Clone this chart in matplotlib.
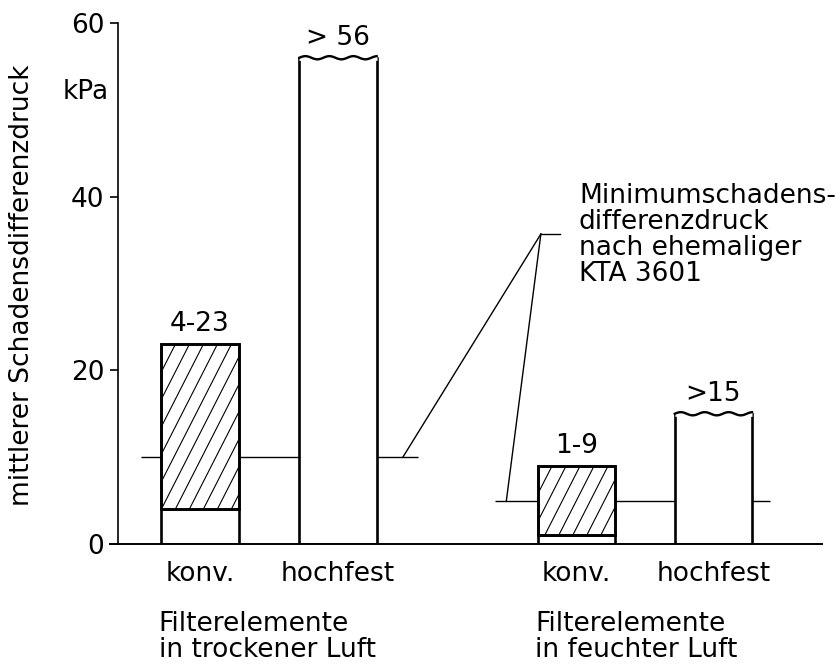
import numpy as np
import matplotlib
matplotlib.use("Agg")
import matplotlib.pyplot as plt

plt.rcParams['font.family'] = ['DejaVu Sans']

# --- data -------------------------------------------------------------
bar_names = ["konv.", "hochfest", "konv.", "hochfest"]
bar_pos = [0.0, 1.0, 2.73, 3.72]
bar_low = [4, None, 1, None]          # lower end of range (konv.)
bar_high = [23, 56, 9, 15]            # upper end / lower bound (hochfest)
bar_open = [False, True, False, True] # open-ended ("> x") bars
bar_text = ["4-23", "> 56", "1-9", ">15"]

group_text = ["Filterelemente\nin trockener Luft", "Filterelemente\nin feuchter Luft"]
min_pressure = [10, 5]                 # Minimumschadensdifferenzdruck per group
min_span = [(-0.43, 1.58), (2.14, 4.13)]

yticks = [0, 20, 40, 60]
ylabel = "mittlerer Schadensdifferenzdruck"
unit = "kPa"
note = "Minimumschadens-\ndifferenzdruck\nnach ehemaliger\nKTA 3601"

FS = 19
W_PX, H_PX = 839, 664

fig = plt.figure(figsize=(W_PX / 100, H_PX / 100), dpi=100)
ax = fig.add_axes([110.3 / W_PX, 120 / H_PX, 712.1 / W_PX, 521 / H_PX])
ax.set_xlim(-0.65, 4.51)
ax.set_ylim(0, 60)

# axes styling
for s in ("top", "right"):
    ax.spines[s].set_visible(False)
ax.spines["left"].set_position(("data", -0.594))
ax.spines["left"].set_linewidth(1.2)
ax.spines["bottom"].set_linewidth(1.4)
ax.set_yticks(yticks)
ax.set_yticklabels([str(v) for v in yticks], fontsize=FS)
ax.tick_params(axis="y", length=6, width=1.2, pad=4)
ax.set_xticks(bar_pos)
ax.set_xticklabels(bar_names, fontsize=FS)
ax.tick_params(axis="x", length=0, pad=12)

# minimum pressure reference lines (behind the bars)
for y, (x0, x1) in zip(min_pressure, min_span):
    ax.hlines(y, x0, x1, color="black", lw=1.0, zorder=1)

BW = 0.56
EDGE = 1.9
fig.canvas.draw()

def hatch_rect(rect, spacing_px=14.0, angle_deg=63.0, lw=0.8):
    (x0, y0), (x1, y1) = ax.transData.transform(
        [(rect.get_x(), rect.get_y()),
         (rect.get_x() + rect.get_width(), rect.get_y() + rect.get_height())])
    h = y1 - y0
    run = h / np.tan(np.radians(angle_deg))
    inv = ax.transData.inverted()
    c = x0 - run
    while c < x1:
        p = inv.transform([(c, y0), (c + run, y1)])
        ln, = ax.plot(p[:, 0], p[:, 1], color="black", lw=lw, zorder=3,
                      solid_capstyle="butt")
        ln.set_clip_path(rect)
        c += spacing_px

def wavy_top(x, top, width):
    (px0, py), (px1, _) = ax.transData.transform([(x - width / 2, top),
                                                  (x + width / 2, top)])
    inv = ax.transData.inverted()
    xs = np.linspace(px0, px1, 80)
    ys = py + 1.6 * np.sin(2 * np.pi * (xs - px0) / 24.0)
    # cover the straight edge, then draw the broken-off edge
    ax.plot([x - width / 2, x + width / 2], [top, top], color="white",
            lw=EDGE + 1.5, zorder=4, solid_capstyle="butt")
    pts = inv.transform(np.column_stack([xs, ys]))
    ax.plot(pts[:, 0], pts[:, 1], color="black", lw=EDGE * 0.9, zorder=5)

for x, lo, hi, op, txt in zip(bar_pos, bar_low, bar_high, bar_open, bar_text):
    if lo is None:
        ax.bar(x, hi, width=BW, color="white", edgecolor="black",
               lw=EDGE, zorder=2)
    else:
        ax.bar(x, lo, width=BW, color="white", edgecolor="black",
               lw=EDGE, zorder=2)
        hb = ax.bar(x, hi - lo, bottom=lo, width=BW, color="white",
                    edgecolor="black", lw=EDGE, zorder=2)
        hatch_rect(hb.patches[0])
        # re-draw the outline over the hatching
        ax.bar(x, hi - lo, bottom=lo, width=BW, fill=False,
               edgecolor="black", lw=EDGE, zorder=4)
    if op:
        wavy_top(x, hi, BW)
    ax.annotate(txt, (x, hi), xytext=(0, 5), textcoords="offset points",
                ha="center", va="bottom", fontsize=FS)

# group captions
for grp_x, txt in zip([bar_pos[0], bar_pos[2]], group_text):
    ax.text(grp_x - 0.30, -7.7, txt, ha="left", va="top", fontsize=FS,
            linespacing=1.0, clip_on=False)

# axis annotation
ax.text(-0.83, 52, unit, ha="center", va="center", fontsize=FS)
fig.text(22 / W_PX, 0.57, ylabel, rotation=90, ha="center", va="center",
         fontsize=FS)

# leader lines to the note
apex = (2.47, 35.7)
ax.plot([apex[0], 2.61], [apex[1], apex[1]], color="black", lw=1.0)
ax.plot([apex[0], 1.47], [apex[1], min_pressure[0]], color="black", lw=1.0)
ax.plot([apex[0], 2.22], [apex[1], min_pressure[1]], color="black", lw=1.0)
ax.text(2.746, 41.6, note, ha="left", va="top", fontsize=FS,
        linespacing=1.0)

fig.savefig("out.png", dpi=100)
